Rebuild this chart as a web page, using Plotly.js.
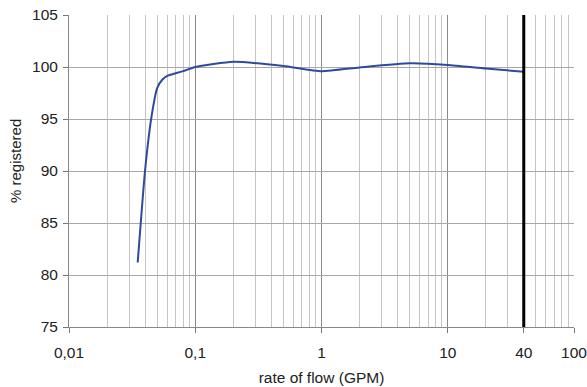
<!DOCTYPE html>
<html>
<head>
<meta charset="utf-8">
<script src="https://cdn.plot.ly/plotly-3.0.1.min.js"></script>
<style>html,body{margin:0;padding:0;background:#fff;}#chart{width:587px;height:387px;}</style>
</head>
<body>
<div id="chart"></div>
<script>
// rate of flow (GPM)
const flowRate = [0.035, 0.04, 0.045, 0.05, 0.055, 0.06, 0.08, 0.1, 0.2, 0.5, 1, 2, 5, 10, 20, 40];
// % registered
const registered = [81.2, 90.0, 95.2, 98.0, 98.8, 99.15, 99.6, 100.0, 100.5, 100.1, 99.6, 99.95, 100.35, 100.2, 99.85, 99.55];
const xTickVals = [0.01, 0.1, 1, 10, 40, 100];
const xTickText = ["0,01", "0,1", "1", "10", "40", "100"];
const yTickVals = [75, 80, 85, 90, 95, 100, 105];
const markerFlow = [40];
const yTitle = '% registered';
const xTitle = 'rate of flow (GPM)';

const minorVals = [];
for (let d = 0.01; d < 100; d *= 10) {
  for (let k = 2; k <= 9; k++) minorVals.push(+(d * k).toPrecision(3));
}

const fontFam = '"Liberation Sans", Arial, sans-serif';

const trace = {
  x: flowRate, y: registered, type: 'scatter', mode: 'lines',
  line: {color: '#2E4A9C', width: 2, shape: 'spline', smoothing: 0.5},
  hoverinfo: 'skip', showlegend: false
};

const shapes = markerFlow.map(v => ({
  type: 'line', xref: 'x', yref: 'paper', x0: v, x1: v, y0: 0, y1: 1,
  line: {color: '#000', width: 3}
}));

const layout = {
  width: 587, height: 387,
  margin: {l: 69, r: 13, t: 15, b: 60},
  paper_bgcolor: '#fff', plot_bgcolor: '#fff',
  font: {family: fontFam, size: 15, color: '#222'},
  xaxis: {
    type: 'log', range: [-2, 2],
    tickmode: 'array', tickvals: xTickVals, ticktext: xTickText,
    ticks: 'outside', ticklen: 5, tickcolor: '#777',
    ticklabelstandoff: 6, ticklabeloverflow: 'allow',
    showgrid: true, gridcolor: '#8a8a8a', gridwidth: 1,
    minor: {tickmode: 'array', tickvals: minorVals, showgrid: true, gridcolor: '#c4c4c4', gridwidth: 1, ticks: ''},
    showline: true, linecolor: '#888', linewidth: 1,
    zeroline: false, mirror: false,
    tickfont: {size: 15.5, color: '#222'},
    title: {text: xTitle, font: {size: 15.5, color: '#222'}, standoff: 12}
  },
  yaxis: {
    range: [75, 105], tickmode: 'array', tickvals: yTickVals,
    ticks: 'outside', ticklen: 5, tickcolor: '#777',
    ticklabelstandoff: 2,
    showgrid: true, gridcolor: '#a8a8a8', gridwidth: 1,
    showline: true, linecolor: '#888', linewidth: 1,
    zeroline: false,
    tickfont: {size: 15.5, color: '#222'}
  },
  annotations: [{
    text: yTitle, textangle: -90, showarrow: false,
    xref: 'paper', yref: 'paper', x: -0.107, y: 0.532,
    xanchor: 'center', yanchor: 'middle',
    font: {size: 15, color: '#222', family: fontFam}
  }],
  shapes: shapes
};

Plotly.newPlot('chart', [trace], layout, {staticPlot: true, displayModeBar: false});
</script>
</body>
</html>
